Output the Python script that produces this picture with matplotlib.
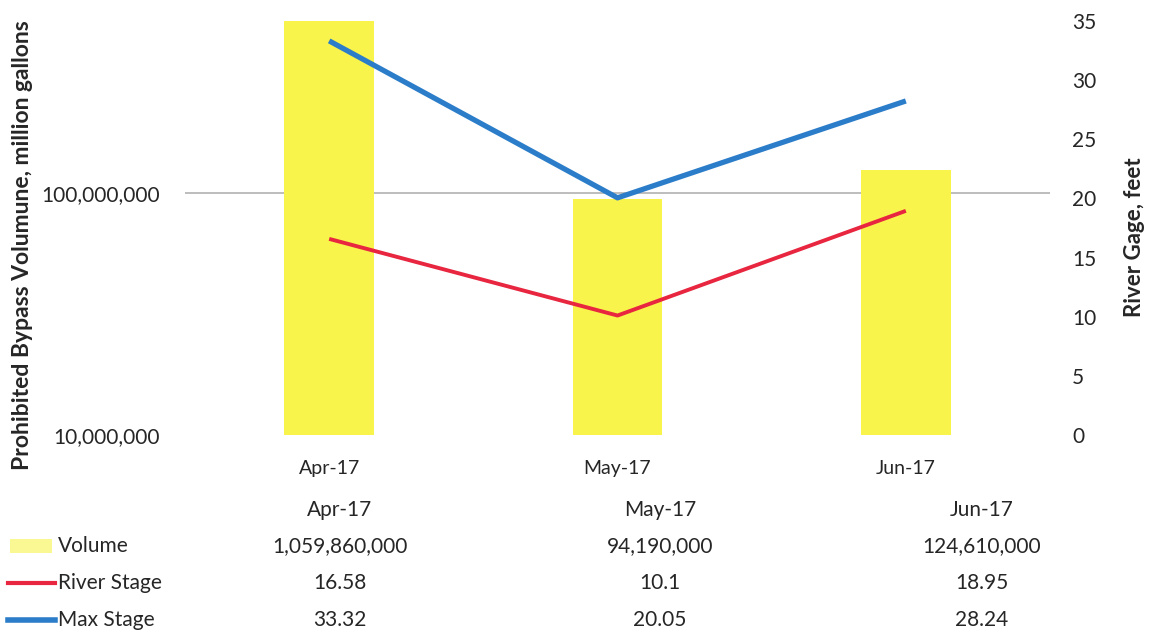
import matplotlib
matplotlib.use("Agg")
import matplotlib.pyplot as plt
from matplotlib.lines import Line2D
from matplotlib.patches import Rectangle
from matplotlib.ticker import FixedLocator, NullLocator

plt.rcParams['font.family'] = ['Lato', 'DejaVu Sans']

months = ["Apr-17", "May-17", "Jun-17"]
volume = [1059860000, 94190000, 124610000]
river_stage = [16.58, 10.1, 18.95]
max_stage = [33.32, 20.05, 28.24]
volume_labels = ["1,059,860,000", "94,190,000", "124,610,000"]
river_labels = ["16.58", "10.1", "18.95"]
max_labels = ["33.32", "20.05", "28.24"]
left_ticks = [1e7, 1e8]
left_tick_labels = ["10,000,000", "100,000,000"]
right_ticks = [0, 5, 10, 15, 20, 25, 30, 35]

W, H = 1149, 635
fig = plt.figure(figsize=(W / 100, H / 100), dpi=100)
ax = fig.add_axes([185 / W, 1 - 435 / H, (1050 - 185) / W, (435 - 21) / H])

yellow = '#F8F44C'
red = '#E8263F'
blue = '#2B7DC9'
txt = '#262626'

x = list(range(len(months)))
ax.bar(x, volume, width=0.31, color=yellow, zorder=2)
ax.set_yscale('log')
ax.set_ylim(1e7, 10 ** 8.71)
ax.set_xlim(-0.5, 2.5)
ax.yaxis.set_major_locator(FixedLocator(left_ticks))
ax.yaxis.set_minor_locator(NullLocator())
ax.set_yticks(left_ticks)
ax.set_yticklabels(left_tick_labels)
ax.set_xticks(x)
ax.set_xticklabels(months)
ax.tick_params(axis='y', length=0, pad=18, labelsize=15, labelcolor=txt)
ax.tick_params(axis='x', length=0, pad=18, labelsize=14, labelcolor=txt)
ax.yaxis.grid(True, color='#BDBDBD', linewidth=1.4, zorder=1)
ax.set_axisbelow(True)
for g in ax.get_ygridlines()[:1]:
    g.set_visible(False)
for s in ax.spines.values():
    s.set_visible(False)
ax.set_ylabel("Prohibited Bypass Volumune, million gallons", fontsize=16.5,
              fontweight='bold', color=txt)
ax.yaxis.set_label_coords(-(185 - 33) / (1050 - 185), (435 - 245) / 414)

ax2 = ax.twinx()
ax2.plot(x, max_stage, color=blue, linewidth=3.8, solid_capstyle='butt', zorder=4)
ax2.plot(x, river_stage, color=red, linewidth=2.8, solid_capstyle='butt', zorder=4)
ax2.set_ylim(0, 35)
ax2.set_yticks(right_ticks)
ax2.tick_params(axis='y', length=0, pad=16, labelsize=15, labelcolor=txt)
for s in ax2.spines.values():
    s.set_visible(False)
ax2.set_ylabel("River Gage, feet", fontsize=16, fontweight='bold', color=txt,
               rotation=90)
ax2.yaxis.set_label_coords(1 + (1124 - 1050) / (1050 - 185), (435 - 237) / 414)

# data table below
col_x = [340, 660, 982]
row_y = [510, 546, 583, 620]
fs = 15
for cx, m in zip(col_x, months):
    fig.text(cx / W, 1 - row_y[0] / H, m, ha='center', va='center', fontsize=fs, color=txt)
for r, labels in enumerate([volume_labels, river_labels, max_labels]):
    for cx, lab in zip(col_x, labels):
        fig.text(cx / W, 1 - row_y[r + 1] / H, lab, ha='center', va='center',
                 fontsize=fs, color=txt)

names = ["Volume", "River Stage", "Max Stage"]
for r, name in enumerate(names):
    fig.text(58 / W, 1 - row_y[r + 1] / H, name, ha='left', va='center',
             fontsize=fs, color=txt)

fig.add_artist(Rectangle((10 / W, 1 - 553 / H), 42 / W, 14 / H,
                         transform=fig.transFigure, color=yellow, alpha=0.6,
                         linewidth=0))
fig.add_artist(Line2D([8 / W, 55 / W], [1 - 583 / H, 1 - 583 / H],
                      transform=fig.transFigure, color=red, linewidth=3))
fig.add_artist(Line2D([8 / W, 55 / W], [1 - 620 / H, 1 - 620 / H],
                      transform=fig.transFigure, color=blue, linewidth=4))

fig.savefig("out.png", dpi=100)
